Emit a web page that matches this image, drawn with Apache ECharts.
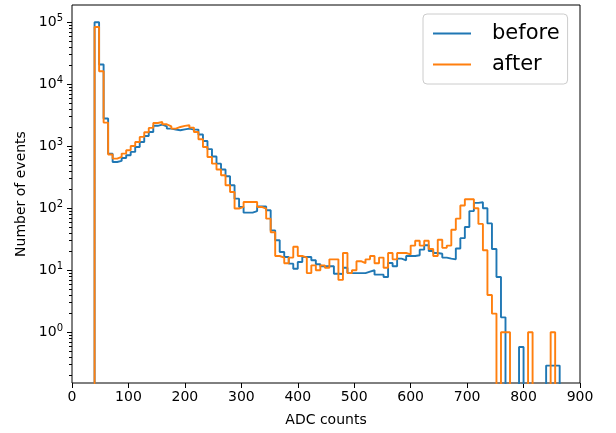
<!DOCTYPE html>
<html>
<head>
<meta charset="utf-8">
<script src="https://cdn.jsdelivr.net/npm/echarts@6/dist/echarts.min.js"></script>
<style>
  html, body { margin: 0; padding: 0; background: #ffffff; }
  #chart { width: 616px; height: 433px; }
</style>
</head>
<body>
<div id="chart"></div>
<script>
// Histogram binning: 8-count wide bins starting at 40 ADC counts
const binStart = 40;
const binWidth = 8;

// Events per bin before the change (scaled weights, so a single event counts 0.29)
const before = [
  100000, 20800, 2800, 760, 558, 580, 648, 716, 811, 975,
  1174, 1468, 1700, 2140, 2238, 2101, 1928, 1858, 1811, 1875,
  1928, 1858, 1858, 1550, 1220, 900, 685, 525, 421, 328,
  235, 143, 105, 85, 85, 90, 107, 107, 93, 44,
  30.5, 19.7, 16.4, 12.8, 10.6, 13.6, 16.4, 16.4, 14.5, 12.5,
  11.6, 11.6, 11.6, 8.8, 8.7, 11, 9, 9, 9, 9,
  9.5, 10, 8.5, 8.5, 7.8, 13.1, 11.6, 15.4, 14.5, 17,
  17, 17.5, 21.5, 25.3, 20.5, 19, 18.5, 16, 15.4, 15,
  22.4, 33, 50, 90, 122, 125, 100, 57, 22, 7.8,
  1.74, 0, 0, 0, 0.58, 0, 0, 0, 0, 0,
  0.29, 0.29, 0.29
];

// Events per bin after the change
const after = [
  84000, 16200, 2410, 735, 633, 673, 762, 861, 1011, 1174,
  1416, 1683, 1980, 2377, 2465, 2263, 2101, 1928, 2049, 2130,
  2181, 2000, 1702, 1300, 975, 673, 525, 421, 341, 235,
  183, 99, 105, 126, 126, 126, 105, 99, 68, 41,
  17, 16, 13, 16, 24, 17, 16, 9, 12, 10,
  12, 11, 15, 15, 7, 19, 9, 10, 14, 13,
  15, 17, 13, 16, 11, 19, 15, 19, 19, 18,
  25, 30, 25, 30, 22, 17, 31, 23, 25, 45,
  68, 111, 140, 140, 100, 56, 21, 4, 2, 0,
  1, 1, 0, 0, 0, 0, 1, 0, 0, 0,
  0, 1, 0
];

const seriesNames = ['before', 'after'];
const seriesColors = ['#1f77b4', '#ff7f0e'];

// Axis ticks
const xTicks = [0, 100, 200, 300, 400, 500, 600, 700, 800, 900];
const yDecades = [0, 1, 2, 3, 4, 5];
const yMinorMultipliers = [2, 3, 4, 5, 6, 7, 8, 9];

// Visible count range of the logarithmic y axis
const yMin = 0.152;
const yMax = 1.9e5;
const logMin = Math.log10(yMin);
const logMax = Math.log10(yMax);

// Empty bins sit below the visible range and get clipped, like a log-scale step outline
const belowAxis = 1e-3;

function stepOutline(counts) {
  const pts = [[binStart, belowAxis]];
  counts.forEach(function (c, i) {
    const v = c > 0 ? c : belowAxis;
    const x0 = binStart + i * binWidth;
    pts.push([x0, v], [x0 + binWidth, v]);
  });
  pts.push([binStart + counts.length * binWidth, belowAxis]);
  return pts;
}

const minorTickValues = [];
for (let d = -1; d <= 5; d++) {
  yMinorMultipliers.forEach(function (m) {
    const lv = Math.log10(m) + d;
    if (lv > logMin && lv < logMax) minorTickValues.push(lv);
  });
}

const font = 'DejaVu Sans';
const chart = echarts.init(document.getElementById('chart'), null, { renderer: 'canvas' });

chart.setOption({
  animation: false,
  backgroundColor: '#ffffff',
  grid: {
    left: 72, right: 36, top: 5, bottom: 50,
    show: true, borderColor: '#000000', borderWidth: 1,
    containLabel: false
  },
  legend: {
    data: seriesNames,
    orient: 'vertical',
    left: 423, top: 14,
    icon: 'rect',
    itemWidth: 38, itemHeight: 2,
    itemGap: 10,
    padding: [9, 8, 9, 10],
    borderColor: '#cccccc', borderWidth: 1, borderRadius: 4,
    backgroundColor: '#ffffff',
    formatter: function (name) { return '{t|' + name + '}'; },
    textStyle: {
      fontFamily: font, fontSize: 21, color: '#000000',
      rich: { t: { fontFamily: font, fontSize: 21, lineHeight: 20, color: '#000000', padding: [0, 0, 0, 16] } }
    }
  },
  xAxis: {
    type: 'value', min: 0, max: 900, interval: 100,
    name: 'ADC counts', nameLocation: 'middle', nameGap: 30,
    nameTextStyle: { fontFamily: font, fontSize: 14, color: '#000000' },
    axisLine: { show: false, onZero: false },
    axisTick: { show: true, length: 5, lineStyle: { color: '#000000', width: 1 } },
    axisLabel: { fontFamily: font, fontSize: 14, color: '#000000', margin: 7 },
    splitLine: { show: false }
  },
  yAxis: [
    {
      // data axis: counts on a logarithmic scale
      type: 'log', logBase: 10, min: yMin, max: yMax,
      axisLine: { show: false, onZero: false }, axisTick: { show: false },
      axisLabel: { show: false }, splitLine: { show: false }
    },
    {
      // decade ticks and labels, placed in log10 space on the same extent
      type: 'value', position: 'left', min: logMin, max: logMax,
      name: 'Number of events', nameLocation: 'middle', nameGap: 42, nameRotate: 90,
      nameTextStyle: { fontFamily: font, fontSize: 14, color: '#000000' },
      axisLine: { show: false, onZero: false },
      axisTick: { show: true, length: 5, customValues: yDecades, lineStyle: { color: '#000000', width: 1 } },
      axisLabel: {
        customValues: yDecades, margin: 9, color: '#000000',
        formatter: function (v) { return '{b|10}{s|' + Math.round(v) + '}'; },
        rich: {
          b: { fontFamily: font, fontSize: 14, color: '#000000' },
          s: { fontFamily: font, fontSize: 10, color: '#000000', padding: [0, 0, 8, 0] }
        }
      },
      splitLine: { show: false }
    },
    {
      // minor ticks at 2..9 times each decade
      type: 'value', position: 'left', min: logMin, max: logMax,
      axisLine: { show: false, onZero: false },
      axisTick: { show: true, length: 3, customValues: minorTickValues, lineStyle: { color: '#000000', width: 1 } },
      axisLabel: { show: false }, splitLine: { show: false }
    }
  ],
  series: [before, after].map(function (counts, i) {
    return {
      name: seriesNames[i],
      type: 'line',
      yAxisIndex: 0,
      data: stepOutline(counts),
      symbol: 'none',
      clip: true,
      color: seriesColors[i],
      lineStyle: { color: seriesColors[i], width: 1.9 }
    };
  })
});
</script>
</body>
</html>
